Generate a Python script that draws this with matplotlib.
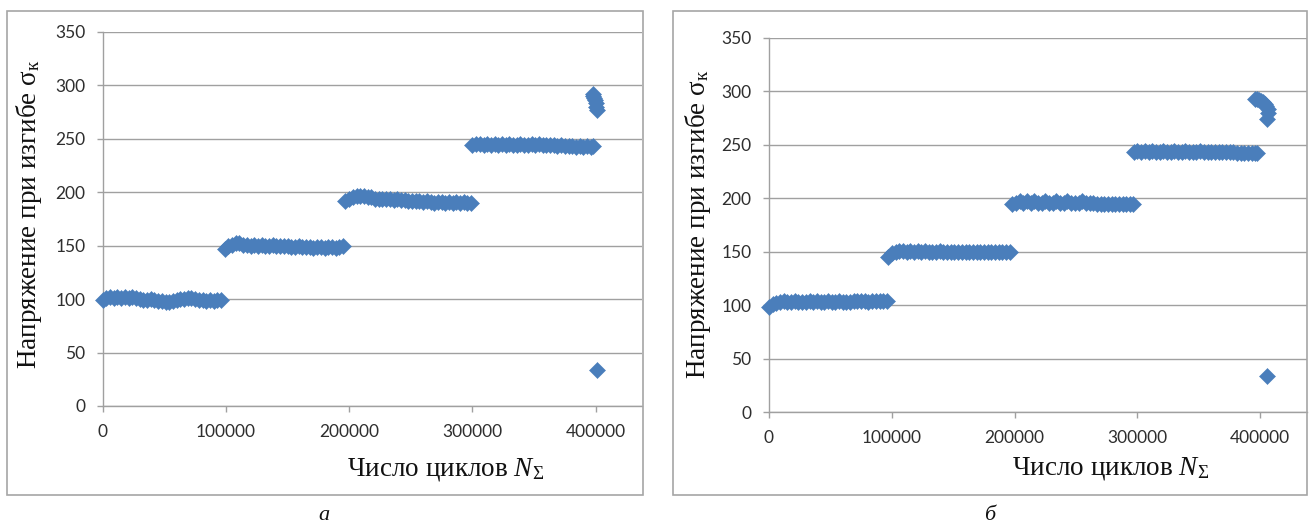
import numpy as np
import matplotlib
matplotlib.use("Agg")
import matplotlib.pyplot as plt
from matplotlib.patches import Rectangle

# ---------------- data (x in thousands of cycles, y in stress units) ----------------
a_x1 = [0, 3, 6, 9, 12, 15, 18, 21, 24, 27, 30, 33, 36, 39, 42, 45, 48, 51, 54, 57,
        60, 63, 66, 69, 72, 75, 78, 81, 84, 87, 90, 93, 96]
a_y1 = [99, 101, 102, 101, 102, 101, 102, 101, 102, 101, 100, 99, 99, 100, 99, 98, 98, 97, 97, 98,
        99, 100, 100, 101, 101, 100, 99, 99, 98, 99, 98, 99, 99]
a_x2 = [99, 102, 105, 108, 111, 114, 117, 120, 123, 126, 129, 132, 135, 138, 141, 144, 147, 150,
        153, 156, 159, 162, 165, 168, 171, 174, 177, 180, 183, 186, 189, 192, 195]
a_y2 = [147, 150, 151, 152, 152, 151, 151, 150, 151, 150, 151, 150, 150, 151, 150, 150, 150, 150,
        149, 149, 150, 149, 149, 149, 148, 149, 149, 148, 149, 149, 148, 149, 150]
a_x3 = [197, 200, 203, 206, 209, 212, 215, 218, 221, 224, 227, 230, 233, 236, 239, 242, 245, 248,
        251, 254, 257, 260, 263, 266, 269, 272, 275, 278, 281, 284, 287, 290, 293, 296, 299]
a_y3 = [192, 194, 195, 196, 196, 196, 195, 195, 194, 194, 194, 194, 194, 193, 194, 193, 193, 192,
        192, 192, 192, 191, 192, 191, 190, 191, 191, 190, 191, 190, 191, 190, 191, 190, 190]
a_x4 = [300, 303, 306, 309, 312, 315, 318, 321, 324, 327, 330, 333, 336, 339, 342, 345, 348, 351,
        354, 357, 360, 363, 366, 369, 372, 375, 378, 381, 384, 387, 390, 393, 396, 398]
a_y4 = [244, 245, 245, 244, 245, 244, 245, 244, 245, 244, 245, 244, 244, 245, 244, 244, 245, 244,
        245, 244, 244, 244, 244, 243, 244, 243, 243, 243, 242, 243, 242, 243, 242, 243]
a_x5 = [397.5, 398, 399, 399.5, 400, 400.5, 401]
a_y5 = [292, 290, 288, 286, 283, 280, 277]
a_x6 = [401]
a_y6 = [33.5]

b_x1 = [0, 3, 6, 9, 12, 15, 18, 21, 24, 27, 30, 33, 36, 39, 42, 45, 48, 51, 54, 57,
        60, 63, 66, 69, 72, 75, 78, 81, 84, 87, 90, 93, 96]
b_y1 = [98, 101, 102, 103, 104, 103, 103, 104, 103, 103, 103, 104, 103, 104, 103, 103, 104, 103,
        103, 104, 103, 103, 103, 104, 104, 104, 104, 103, 104, 104, 104, 104, 104]
b_x2 = [97, 100, 103, 106, 109, 112, 115, 118, 121, 124, 127, 130, 133, 136, 139, 142, 145, 148,
        151, 154, 157, 160, 163, 166, 169, 172, 175, 178, 181, 184, 187, 190, 193, 196]
b_y2 = [145, 149, 150, 151, 151, 150, 151, 150, 151, 150, 151, 150, 150, 150, 151, 150, 150, 150,
        150, 150, 150, 150, 150, 150, 150, 150, 150, 150, 150, 150, 150, 150, 150, 150]
b_x3 = [198, 201, 204, 207, 210, 213, 216, 219, 222, 225, 228, 231, 234, 237, 240, 243, 246, 249,
        252, 255, 258, 261, 264, 267, 270, 273, 276, 279, 282, 285, 288, 291, 294, 296]
b_y3 = [195, 196, 197, 196, 197, 196, 197, 196, 196, 197, 196, 196, 197, 196, 196, 197, 196, 196,
        196, 197, 196, 196, 196, 195, 195, 195, 195, 195, 195, 195, 195, 195, 195, 195]
b_x4 = [297, 300, 303, 306, 309, 312, 315, 318, 321, 324, 327, 330, 333, 336, 339, 342, 345, 348,
        351, 354, 357, 360, 363, 366, 369, 372, 375, 378, 381, 384, 387, 390, 393, 396, 397]
b_y4 = [243, 244, 243, 244, 243, 244, 243, 243, 244, 243, 243, 244, 243, 243, 244, 243, 243, 243,
        244, 243, 243, 243, 243, 243, 243, 243, 243, 243, 242, 242, 242, 242, 242, 242, 242]
b_x5 = [396, 397.5, 399, 400.5, 402, 403.5, 405, 406, 406.5, 405.5]
b_y5 = [293, 293, 292, 291, 290, 288, 286, 283, 280, 274]
b_x6 = [405.5]
b_y6 = [34.3]

x_ticks = [0, 100000, 200000, 300000, 400000]
x_ticklabels = ["0", "100000", "200000", "300000", "400000"]
y_ticks = [0, 50, 100, 150, 200, 250, 300, 350]
y_ticklabels = ["0", "50", "100", "150", "200", "250", "300", "350"]

ylabel_text = "Напряжение при изгибе $\\mathrm{σ}_{\\mathrm{к}}$"
xlabel_text = "Число циклов $\\mathit{N}_{\\mathrm{Σ}}$"
captions = ["а", "б"]

# ---------------- style ----------------
plt.rcParams["mathtext.fontset"] = "custom"
plt.rcParams["mathtext.rm"] = "Liberation Serif"
plt.rcParams["mathtext.it"] = "Liberation Serif:italic"
plt.rcParams["mathtext.bf"] = "Liberation Serif:bold"

W, H = 1309, 528
fig = plt.figure(figsize=(W / 100, H / 100), dpi=100)

MARK = "#4a7ebb"
GRID = "#a0a0a0"
TICKC = "#2e2e2e"


def px_rect(x0, y0, x1, y1):
    return [x0 / W, 1 - y1 / H, (x1 - x0) / W, (y1 - y0) / H]


def make_panel(rect, xs, ys):
    ax = fig.add_axes(rect)
    for x, y in zip(xs, ys):
        ax.plot(np.array(x) * 1000, y, linestyle="none", marker="D", ms=8.3,
                mew=0.4, mec=MARK, color=MARK, zorder=3, clip_on=False)
    ax.set_xlim(0, 438000)
    ax.set_ylim(0, 350)
    ax.set_xticks(x_ticks)
    ax.set_xticklabels(x_ticklabels)
    ax.set_yticks(y_ticks)
    ax.set_yticklabels(y_ticklabels)
    ax.yaxis.grid(True, color=GRID, lw=1.0)
    ax.set_axisbelow(True)
    for s in ["top", "right"]:
        ax.spines[s].set_visible(False)
    for s in ["left", "bottom"]:
        ax.spines[s].set_color(GRID)
        ax.spines[s].set_linewidth(1.0)
    ax.tick_params(axis="both", direction="out", length=4.5, width=1.0,
                   color=GRID, labelcolor=TICKC)
    ax.tick_params(axis="y", pad=8.0)
    ax.tick_params(axis="x", pad=8.5)
    for lab in ax.get_xticklabels() + ax.get_yticklabels():
        lab.set_fontfamily("Lato")
        lab.set_fontsize(12.5)
    return ax


ax_a = make_panel(px_rect(102.7, 31.7, 642.5, 406.0),
                  [a_x1, a_x2, a_x3, a_x4, a_x5, a_x6],
                  [a_y1, a_y2, a_y3, a_y4, a_y5, a_y6])
ax_b = make_panel(px_rect(769.0, 37.7, 1307.0, 412.3),
                  [b_x1, b_x2, b_x3, b_x4, b_x5, b_x6],
                  [b_y1, b_y2, b_y3, b_y4, b_y5, b_y6])

# frames around each panel
for (x0, y0, x1, y1) in [(7, 11, 643, 495), (672.7, 11, 1307, 495)]:
    fig.add_artist(Rectangle((x0 / W, 1 - y1 / H), (x1 - x0) / W, (y1 - y0) / H,
                             transform=fig.transFigure, fill=False,
                             edgecolor="#a6a6a6", lw=1.2))

serif = "Liberation Serif"
LBL = 19.5
# y labels
fig.text(29 / W, 1 - 213.7 / H, ylabel_text, rotation=90, ha="center", va="center",
         family=serif, fontsize=LBL, color="#111111")
fig.text(698 / W, 1 - 224 / H, ylabel_text, rotation=90, ha="center", va="center",
         family=serif, fontsize=LBL, color="#111111")
# x labels
fig.text(446 / W, 1 - 469.5 / H, xlabel_text, ha="center", va="center",
         family=serif, fontsize=LBL, color="#111111")
fig.text(1111 / W, 1 - 468 / H, xlabel_text, ha="center", va="center",
         family=serif, fontsize=LBL, color="#111111")
# captions
fig.text(324 / W, 1 - 516 / H, captions[0], ha="center", va="center",
         family=serif, style="italic", fontsize=16, color="#111111")
fig.text(989.5 / W, 1 - 516 / H, captions[1], ha="center", va="center",
         family=serif, style="italic", fontsize=16, color="#111111")

fig.savefig("out.png", dpi=100)
